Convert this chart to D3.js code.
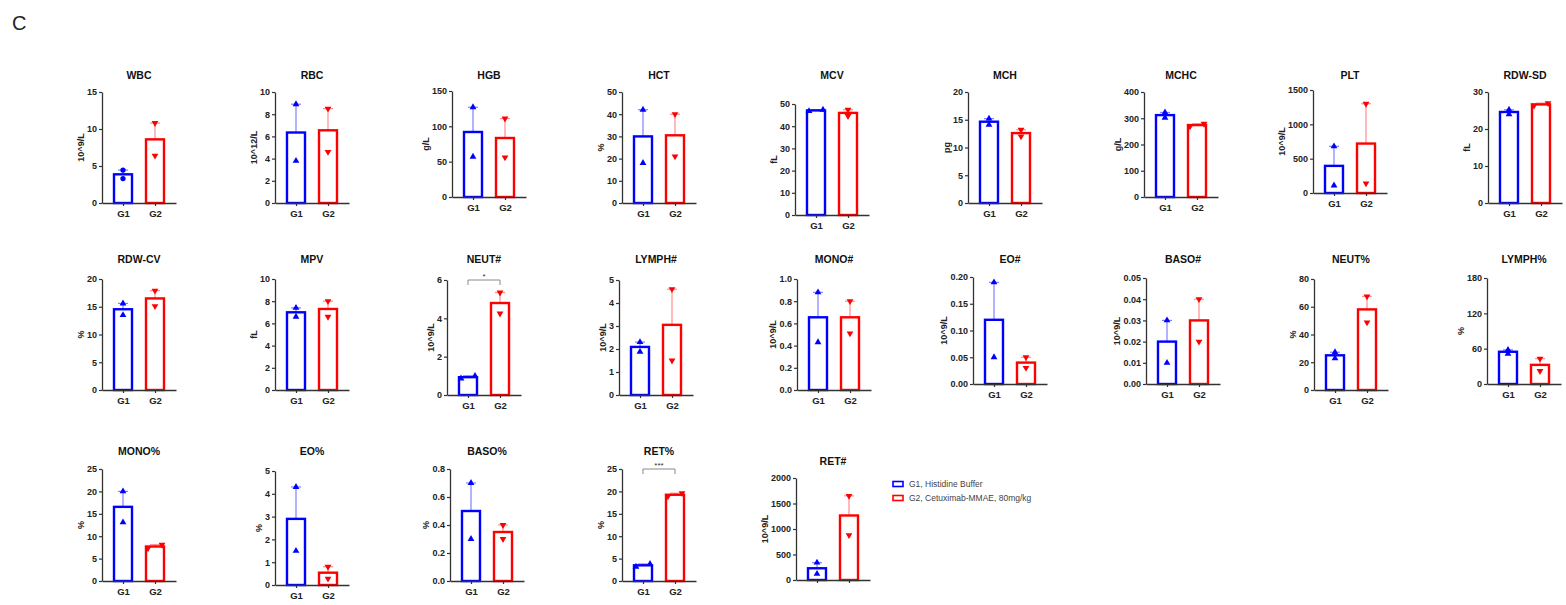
<!DOCTYPE html>
<html><head><meta charset="utf-8">
<script src="https://cdn.jsdelivr.net/npm/d3@7"></script>
<style>body{margin:0;background:#fff}svg{display:block}</style>
</head><body>
<svg id="c" width="1566" height="605"></svg>
<script>
// ---------- data ----------
const panels = ["WBC","RBC","HGB","HCT","MCV","MCH","MCHC","PLT","RDW-SD",
  "RDW-CV","MPV","NEUT#","LYMPH#","MONO#","EO#","BASO#","NEUT%","LYMPH%",
  "MONO%","EO%","BASO%","RET%","RET#"];
const units = ["10^9/L","10^12/L","g/L","%","fL","pg","g/L","10^9/L","fL",
  "%","fL","10^9/L","10^9/L","10^9/L","10^9/L","10^9/L","%","%",
  "%","%","%","%","10^9/L"];
const yMax  = [15,10,150,50,50,20,400,1500,30, 20,10,6,5,1.0,0.20,0.05,80,180, 25,5,0.8,25,2000];
const yStep = [5,2,50,10,10,5,100,500,10, 5,2,2,1,0.2,0.05,0.01,20,60, 5,1,0.2,5,500];
const tickFormats = ["d","d","d","d","d","d","d","d","d", "d","d","d","d",".1f",".2f",".2f","d","d", "d","d",".1f","d","d"];
const groups = ["G1","G2"];
const g1Values = [[4.45,3.3],[8.9,3.8],[127,57],[42,18],[46.8,47.4],[15.2,14.1],[322,302],[680,110],[25.2,24.0],
  [15.6,13.5],[7.4,6.6],[0.86,1.0],[2.3,1.88],[0.88,0.43],[0.19,0.05],[0.03,0.01],[27.2,22.8],[58,51.5],
  [20,13.1],[4.3,1.5],[0.7,0.3],[3.2,3.8],[340,120]];
const g2Values = [[10.8,6.4],[8.5,4.6],[111,56],[40,21],[47.4,44.6],[13.2,12.0],[279,269],[1300,140],[26.3,27.0],
  [17.9,15.1],[8.0,6.6],[5.35,4.25],[4.6,1.5],[0.8,0.51],[0.05,0.03],[0.04,0.02],[67.5,48.7],[43,22],
  [7.3,8.1],[0.8,0.28],[0.4,0.3],[18.9,19.6],[1650,880]];
const sigLabels = ["","","","","","","","","", "","","*","","","","","","", "","","","***",""];
const g1CirclePanels = ["WBC"];
const noGroupLabelPanels = ["RET#"];
const legendLabels = ["G1, Histidine Buffer","G2, Cetuximab-MMAE, 80mg/kg"];

// ---------- layout (axis x, plot top, plot bottom, title baseline) ----------
const layout = [
  [102,92,203,79],[275,92,203,79],[452,91,197,79],[622,92,203,79],[795,104,215,79],
  [968,92,203,79],[1144,92,197,79],[1313,90,193,79],[1488,92,203,79],
  [102,279,390,263],[275,279,390,263],[447,280,395,263],[619,280,395,263],[797,279,390,263],
  [973,277,384,263],[1146,278,384,263],[1314,279,390,263],[1487,278,384,263],
  [102,469,581,455],[275,471,585,455],[450,469,581,455],[622,469,581,455],[796,478,580,465]
];
const colors = {G1:"#0000ff", G2:"#ff0000"};
const errColors = {G1:"rgba(0,0,255,0.5)", G2:"rgba(255,0,0,0.45)"};
const axisColor = "#333";
const FONT = "'Liberation Sans', Arial, sans-serif";

const svg = d3.select("#c");
svg.append("text").attr("x",12).attr("y",30).attr("font-family",FONT)
  .attr("font-size",20).attr("fill","#222").text("C");

panels.forEach((name,i)=>{
  const [ax, top, bot, ty] = layout[i];
  const g = svg.append("g");
  const y = d3.scaleLinear().domain([0,yMax[i]]).range([bot,top]);
  const x = d3.scalePoint().domain(groups).range([ax, ax+74]).padding(0.656);
  const ticks = d3.range(0, yMax[i]+yStep[i]/2, yStep[i]);
  const fmt = d3.format(tickFormats[i]);

  // title
  g.append("text").attr("x",ax+37).attr("y",ty).attr("text-anchor","middle")
    .attr("font-family",FONT).attr("font-weight","bold").attr("font-size",10.5)
    .attr("fill","#111").text(name);

  // y axis
  const yAx = g.append("g").attr("transform",`translate(${ax},0)`)
    .call(d3.axisLeft(y).tickValues(ticks).tickFormat(fmt).tickSize(3).tickSizeOuter(0).tickPadding(2));
  yAx.select(".domain").attr("stroke",axisColor).attr("stroke-width",1.3);
  yAx.selectAll(".tick line").attr("stroke",axisColor).attr("stroke-width",1.2);
  yAx.selectAll(".tick text").attr("font-family",FONT).attr("font-weight","bold")
    .attr("font-size",9).attr("fill","#222");
  let maxW = 0;
  yAx.selectAll(".tick text").each(function(){ maxW = Math.max(maxW, this.getBBox().width); });

  // y label
  const lx = ax - 5 - maxW - 3, ly = (top+bot)/2;
  g.append("text").attr("transform",`translate(${lx},${ly}) rotate(-90)`)
    .attr("text-anchor","middle").attr("font-family",FONT).attr("font-weight","bold")
    .attr("font-size",9).attr("fill","#222").text(units[i]);

  // bars
  const data = [{grp:"G1", vals:g1Values[i]},{grp:"G2", vals:g2Values[i]}];
  data.forEach(d=>{
    const m = d3.mean(d.vals);
    const sem = d3.deviation(d.vals)/Math.sqrt(d.vals.length);
    const cx = x(d.grp);
    // error bar
    g.append("line").attr("x1",cx).attr("x2",cx).attr("y1",y(m)).attr("y2",y(m+sem))
      .attr("stroke",errColors[d.grp]).attr("stroke-width",1.2);
    g.append("line").attr("x1",cx-5).attr("x2",cx+5).attr("y1",y(m+sem)).attr("y2",y(m+sem))
      .attr("stroke",errColors[d.grp]).attr("stroke-width",1.2);
    // bar
    g.append("rect").attr("x",cx-9).attr("width",18).attr("y",y(m)).attr("height",y(0)-y(m))
      .attr("fill","#fff").attr("fill-opacity",0).attr("stroke",colors[d.grp]).attr("stroke-width",2.4);
  });

  // x axis
  const xAx = g.append("g").attr("transform",`translate(0,${bot})`)
    .call(d3.axisBottom(x).tickSize(3).tickSizeOuter(0).tickPadding(3)
      .tickFormat(noGroupLabelPanels.includes(name) ? "" : (d=>d)));
  xAx.select(".domain").attr("stroke",axisColor).attr("stroke-width",1.3);
  xAx.selectAll(".tick line").attr("stroke",axisColor).attr("stroke-width",1.2);
  xAx.selectAll(".tick text").attr("font-family",FONT).attr("font-weight","bold")
    .attr("font-size",9.5).attr("fill","#222").attr("dy","0.85em");

  // points
  data.forEach(d=>{
    const cx = x(d.grp);
    const py = d.vals.map(v=>y(v));
    const close = Math.abs(py[0]-py[1]) < 3.7;
    const order = d.vals.map((v,k)=>k).sort((a,b)=>d.vals[a]-d.vals[b]);
    d.vals.forEach((v,k)=>{
      let px = cx;
      if (close) px = cx + (order.indexOf(k)===0 ? -7 : 7);
      let shape, rot = 0;
      if (d.grp==="G1") shape = g1CirclePanels.includes(name) ? d3.symbolCircle : d3.symbolTriangle;
      else { shape = d3.symbolTriangle; rot = 180; }
      g.append("path").attr("d", d3.symbol().type(shape).size(shape===d3.symbolCircle?22:20)())
        .attr("transform",`translate(${px},${py[k]}) rotate(${rot})`)
        .attr("fill",colors[d.grp]);
    });
  });

  // significance bracket
  if (sigLabels[i]) {
    const by = y(yMax[i]);
    const x1 = x("G1"), x2 = x("G2");
    g.append("path").attr("d",`M${x1},${by+5}V${by}H${x2}V${by+5}`)
      .attr("fill","none").attr("stroke","#888").attr("stroke-width",1);
    g.append("text").attr("x",(x1+x2)/2).attr("y",by-1).attr("text-anchor","middle")
      .attr("font-family",FONT).attr("font-size",8).attr("fill","#333").text(sigLabels[i]);
  }
});

// legend
legendLabels.forEach((lab,k)=>{
  const ly = 484 + k*14;
  svg.append("rect").attr("x",893).attr("y",ly-2.5).attr("width",10).attr("height",5)
    .attr("fill","#fff").attr("stroke",colors[groups[k]]).attr("stroke-width",1.6);
  svg.append("text").attr("x",909).attr("y",ly+3).attr("font-family",FONT)
    .attr("font-size",8.5).attr("fill","#444").text(lab);
});
</script>
</body></html>
